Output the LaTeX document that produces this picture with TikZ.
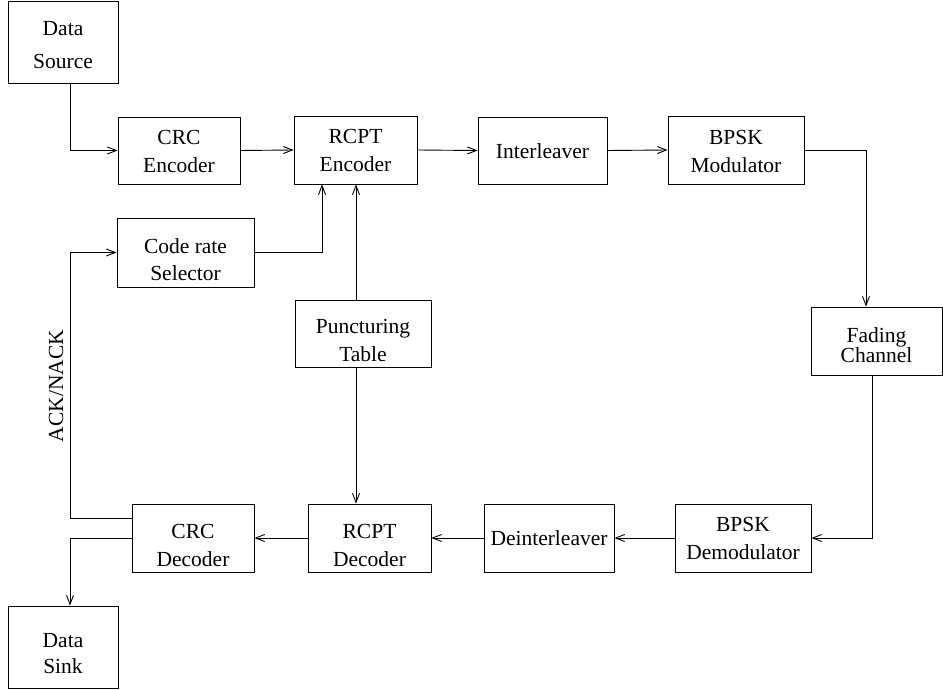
\documentclass[tikz,border=0pt]{standalone}
\usepackage{fontspec}
\setmainfont{Liberation Serif}
\usetikzlibrary{arrows.meta}
% text block lowered by #1 inside its node, box dimensions unchanged
\newcommand{\blk}[2]{\raisebox{-#1}[\height][\depth]{\begin{tabular}{@{}c@{}}#2\end{tabular}}}
\begin{document}
\begin{tikzpicture}[x=1pt,y=-1pt,
  box/.style={draw, line width=0.9pt, rectangle, inner sep=0pt,
    font=\fontsize{21.5}{28}\selectfont},
  conn/.style={line width=0.9pt},
  arr/.style={conn, -{Straight Barb[length=9pt,width=7pt,line width=0.9pt]}}]
\useasboundingbox (0,0) rectangle (943,690);
% boxes
\node[box, minimum width=110, minimum height=82] (src) at (63,42) {\blk{4pt}{Data\\[5pt]Source}};
\node[box, minimum width=122, minimum height=67] (crcenc) at (179,150.5) {\blk{2pt}{CRC\\Encoder}};
\node[box, minimum width=123, minimum height=68] (rcptenc) at (355.5,150) {\blk{2pt}{RCPT\\Encoder}};
\node[box, minimum width=129, minimum height=67] (intl) at (542.5,150.5) {\blk{2pt}{Interleaver}};
\node[box, minimum width=136, minimum height=68] (bpskmod) at (736,150) {\blk{3pt}{BPSK\\Modulator}};
\node[box, minimum width=137, minimum height=69] (crsel) at (185.5,252.5) {\blk{8.4pt}{Code rate\\[-1pt]Selector}};
\node[box, minimum width=136, minimum height=67] (punct) at (363,333.5) {\blk{8pt}{Puncturing\\Table}};
\node[box, minimum width=131, minimum height=68] (fading) at (876.5,341) {\blk{5.4pt}{Fading\\[-8pt]Channel}};
\node[box, minimum width=122, minimum height=68] (crcdec) at (193,538) {\blk{8.4pt}{CRC\\Decoder}};
\node[box, minimum width=123, minimum height=68] (rcptdec) at (369.5,538) {\blk{8.4pt}{RCPT\\Decoder}};
\node[box, minimum width=130, minimum height=68] (deint) at (549,538) {\blk{1.5pt}{Deinterleaver}};
\node[box, minimum width=136, minimum height=68] (bpskdem) at (743,538) {\blk{2pt}{BPSK\\Demodulator}};
\node[box, minimum width=110, minimum height=82] (sink) at (63,647) {\blk{7.4pt}{Data\\[-2pt]Sink}};
% helper coordinates
\coordinate (xl) at (70,0);
\coordinate (xsel) at (322,0);
\coordinate (xp) at (356,0);
\coordinate (xfin) at (866,0);
\coordinate (xfout) at (872,0);
\coordinate (ack) at (70,518);
% connectors
\draw[arr] (xl |- src.south) |- (crcenc.west);
\draw[arr] (crcenc.east) -- (rcptenc.west);
\draw[arr] (rcptenc.east) -- (intl.west);
\draw[arr] (intl.east) -- (bpskmod.west);
\draw[arr] (bpskmod.east) -| (xfin |- fading.north);
\draw[arr] (xfout |- fading.south) |- (bpskdem.east);
\draw[arr] (bpskdem.west) -- (deint.east);
\draw[arr] (deint.west) -- (rcptdec.east);
\draw[arr] (rcptdec.west) -- (crcdec.east);
\draw[arr] (crcdec.west |- ack) -- (ack) |- (crsel.west);
\draw[arr] (crcdec.west) -| (xl |- sink.north);
\draw[arr] (crsel.east) -| (xsel |- rcptenc.south);
\draw[arr] (xp |- punct.north) -- (xp |- rcptenc.south);
\draw[arr] (xp |- punct.south) -- (xp |- rcptdec.north);
% label
\node[rotate=90, font=\fontsize{21.5}{28}\selectfont, inner sep=0pt] (acklbl) at (56,386) {ACK/NACK};
\end{tikzpicture}
\end{document}
